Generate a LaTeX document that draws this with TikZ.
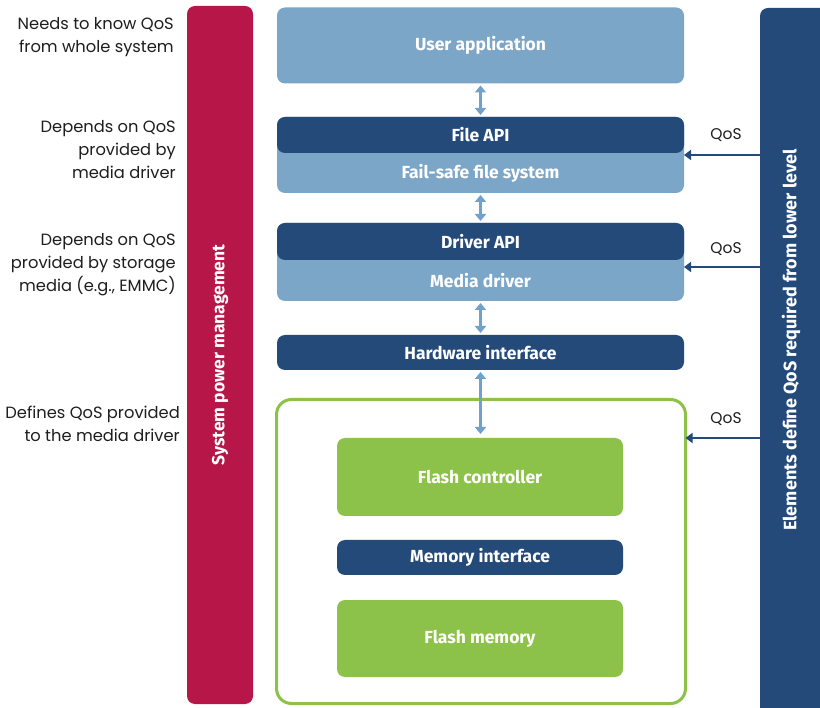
\documentclass[tikz,border=0pt]{standalone}
\usepackage{fontspec}
\setmainfont{Poppins}
\newfontfamily\labelfont{Fira Sans}
\usetikzlibrary{arrows.meta}

\definecolor{powerred}{RGB}{183,22,72}
\definecolor{navy}{RGB}{36,74,122}
\definecolor{paleblue}{RGB}{123,166,199}
\definecolor{leaf}{RGB}{141,194,74}
\definecolor{linkblue}{RGB}{112,160,204}
\definecolor{inkgrey}{RGB}{30,30,30}

\tikzset{
  layer/.style={rounded corners=8pt, inner sep=0pt, outer sep=0pt, text=white,
    font=\labelfont\bfseries\fontsize{17.5}{20}\selectfont},
  lightlayer/.style={layer, fill=paleblue},
  darklayer/.style={layer, fill=navy},
  greenlayer/.style={layer, fill=leaf},
  barlabel/.style={text=white, rotate=90, inner sep=0pt,
    font=\labelfont\bfseries\fontsize{18}{20}\selectfont},
  note/.style={anchor=east, align=right, text=inkgrey, inner sep=0pt,
    font=\fontsize{16.3}{23}\selectfont},
  qostext/.style={text=inkgrey, inner sep=0pt, font=\fontsize{15.5}{18}\selectfont},
  twoway/.style={draw=linkblue, line width=3pt,
    {Triangle[width=11pt,length=7pt]}-{Triangle[width=11pt,length=7pt]},
    shorten <=2pt, shorten >=2pt},
  qosarrow/.style={draw=navy, line width=2.2pt, -{Triangle[width=10pt,length=7pt]}},
}

\begin{document}
\begin{tikzpicture}[x=1pt,y=-1pt]
\useasboundingbox[fill=white] (0,0) rectangle (820,708);

% side bars
\node[layer, fill=powerred, rotate=90, minimum width=698, minimum height=66,
      font=\labelfont\bfseries\fontsize{17.5}{20}\selectfont] (power) at (220,355)
      {System power management};
\node[layer, fill=navy, minimum width=68, minimum height=712] (reqbar) at (794,364) {};
\node[barlabel] (reqlabel) at (791,340) {Elements define QoS required from lower level};

% software stack
\node[lightlayer, minimum width=407, minimum height=76] (user) at (480.5,45.5) {User application};

\node[lightlayer, minimum width=407, minimum height=76] (fs) at (480.5,155) {};
\node[darklayer, minimum width=407, minimum height=36] (fileapi) at (480.5,135) {File API};
\node[layer] (fslabel) at (480.5,173) {Fail-safe file system};

\node[lightlayer, minimum width=407, minimum height=78] (md) at (480.5,262) {};
\node[darklayer, minimum width=407, minimum height=37] (drvapi) at (480.5,241.5) {Driver API};
\node[layer] (mdlabel) at (480.5,281) {Media driver};

\node[darklayer, minimum width=407, minimum height=35] (hw) at (480.5,352.5) {Hardware interface};

% storage device
\node[draw=leaf, line width=3pt, rounded corners=15pt, minimum width=409, minimum height=304,
      inner sep=0pt, outer sep=0pt] (device) at (481,551.5) {};
\node[greenlayer, minimum width=286, minimum height=78] (fc) at (480,477) {Flash controller};
\node[darklayer, minimum width=286, minimum height=35] (memif) at (480,557.5) {Memory interface};
\node[greenlayer, minimum width=286, minimum height=77] (fm) at (480,638.5) {Flash memory};

% links between layers
\draw[twoway] (user.south) -- (fileapi.north);
\draw[twoway] (fs.south) -- (drvapi.north);
\draw[twoway] (md.south) -- (hw.north);
\coordinate (devtop) at (480.5,434);
\draw[twoway, line width=2.5pt, shorten >=0pt] (hw.south) -- (devtop);

% QoS requirements from the right
\draw[qosarrow] (reqbar.west |- fs.east) -- (fs.east);
\draw[qosarrow] (reqbar.west |- 0,267) -- (md.east |- 0,267);
\draw[qosarrow] (reqbar.west |- fc.north) -- (device.east |- fc.north);
\node[qostext] (q1) at (726,135) {QoS};
\node[qostext] (q2) at (726,249) {QoS};
\node[qostext] (q3) at (726,419) {QoS};

% notes on the left
\node[note] (n1) at (174,37) {Needs to know QoS\\from whole system};
\node[note] (n2) at (176,150) {Depends on QoS\\provided by\\media driver};
\node[note] (n3) at (176,265) {Depends on QoS\\provided by storage\\media (e.g., EMMC)};
\node[note] (n4) at (180,424) {Defines QoS provided\\to the media driver};
\end{tikzpicture}
\end{document}
